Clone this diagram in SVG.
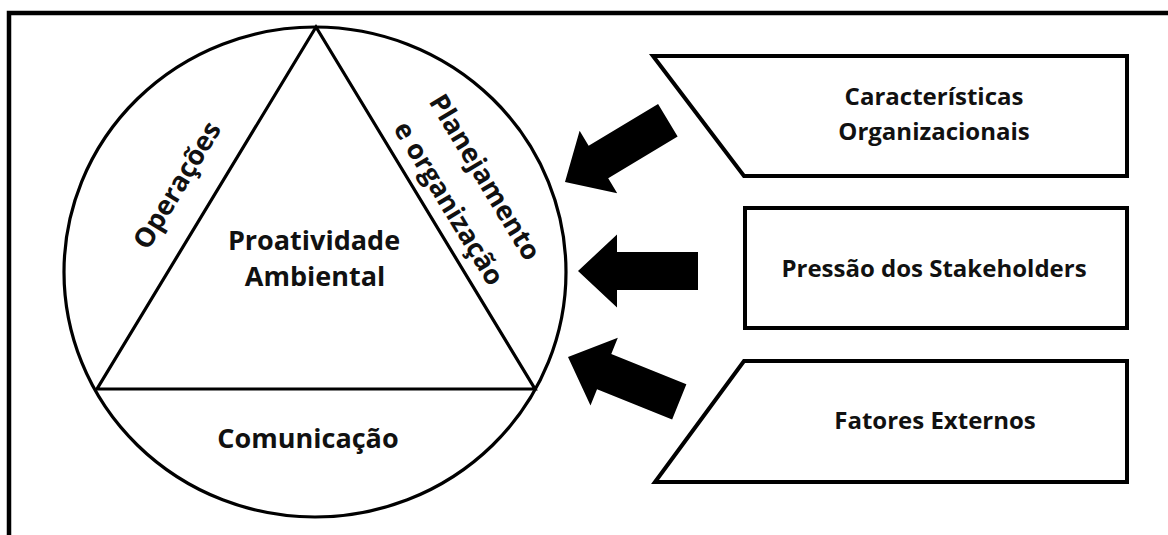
<svg xmlns="http://www.w3.org/2000/svg" xmlns:xlink="http://www.w3.org/1999/xlink" width="1168" height="535" viewBox="0 0 1168 535">
<style>
.ln{fill:none;stroke:#000;stroke-width:3.2}
.bx{fill:#fff;stroke:#000;stroke-width:4}
.t{font-family:"Open Sans","Liberation Sans",sans-serif;font-weight:bold;fill:#111;text-anchor:middle}
.big{font-size:27px}
.sm{font-size:24px}
</style>
<defs>
<path id="arrow" d="M0,0 L39,-36.5 L39,-19 L120,-19 L120,19 L39,19 L39,36.5 Z" fill="#000"/>
</defs>
<rect x="0" y="0" width="1168" height="535" fill="#fff"/>
<rect id="frame" x="9" y="13" width="1200" height="600" fill="none" stroke="#000" stroke-width="4.5"/>
<g id="circle">
<ellipse class="ln" cx="315" cy="272" rx="251" ry="245"/>
</g>
<g id="triangle">
<polygon class="ln" points="316,27 97,389 535,389"/>
<text class="t big" x="314" y="250">Proatividade</text>
<text class="t big" x="315" y="286">Ambiental</text>
</g>
<g id="operacoes">
<text class="t big" transform="translate(185,190) rotate(-58.8)">Operações</text>
</g>
<g id="planejamento">
<text class="t big" transform="translate(477,182) rotate(58.8)">Planejamento</text>
<text class="t big" transform="translate(441,208) rotate(58.8)">e organização</text>
</g>
<g id="comunicacao">
<text class="t big" x="308" y="448">Comunicação</text>
</g>
<g id="caracteristicas">
<polygon class="bx" points="653,56 1127,56 1127,176 744,176"/>
<text class="t sm" x="934" y="105">Características</text>
<text class="t sm" x="934" y="140">Organizacionais</text>
</g>
<g id="pressao">
<rect class="bx" x="745" y="208" width="382" height="120"/>
<text class="t sm" x="934" y="277">Pressão dos Stakeholders</text>
</g>
<g id="fatores">
<polygon class="bx" points="744,361 1127,361 1127,482 655,482"/>
<text class="t sm" x="935" y="429">Fatores Externos</text>
</g>
<g id="connectors">
<use xlink:href="#arrow" transform="translate(565,182) rotate(-31)"/>
<use xlink:href="#arrow" transform="translate(578,271)"/>
<use xlink:href="#arrow" transform="translate(568,357) rotate(22)"/>
</g>
</svg>
